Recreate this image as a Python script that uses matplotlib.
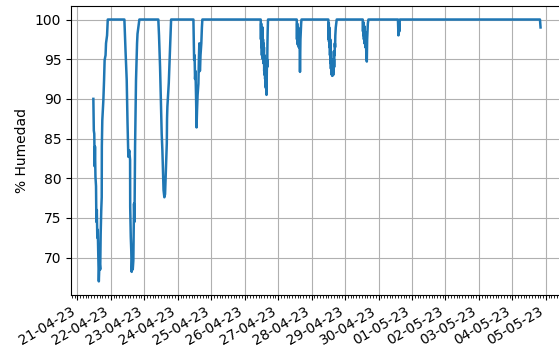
import matplotlib
matplotlib.use("Agg")
import matplotlib.pyplot as plt
import matplotlib.dates as mdates
import pandas as pd

# Humidity readings (%), timestamped
timestamps = [
    # 21-04
    "2023-04-21 11:30", "2023-04-21 11:50", "2023-04-21 12:10", "2023-04-21 12:25",
    "2023-04-21 12:40", "2023-04-21 13:00", "2023-04-21 13:25", "2023-04-21 13:40",
    "2023-04-21 14:00", "2023-04-21 14:20", "2023-04-21 14:40", "2023-04-21 15:05",
    "2023-04-21 15:25", "2023-04-21 15:55", "2023-04-21 16:25", "2023-04-21 16:45",
    "2023-04-21 17:10", "2023-04-21 17:30", "2023-04-21 17:35", "2023-04-21 17:55",
    "2023-04-21 18:40", "2023-04-21 19:10", "2023-04-21 19:35", "2023-04-21 20:15",
    "2023-04-21 20:35", "2023-04-21 21:20", "2023-04-21 21:50",
    # 22-04
    "2023-04-22 09:45", "2023-04-22 10:35", "2023-04-22 11:25", "2023-04-22 12:00",
    "2023-04-22 12:35", "2023-04-22 13:15", "2023-04-22 13:50", "2023-04-22 13:55",
    "2023-04-22 14:20", "2023-04-22 14:40", "2023-04-22 15:00", "2023-04-22 15:25",
    "2023-04-22 15:45", "2023-04-22 16:10", "2023-04-22 16:25", "2023-04-22 16:40",
    "2023-04-22 17:00", "2023-04-22 17:25", "2023-04-22 17:45", "2023-04-22 18:05",
    "2023-04-22 18:50", "2023-04-22 19:10", "2023-04-22 20:30",
    # 23-04
    "2023-04-23 10:05", "2023-04-23 10:35", "2023-04-23 11:20", "2023-04-23 11:55",
    "2023-04-23 12:30", "2023-04-23 13:00", "2023-04-23 13:30", "2023-04-23 13:50",
    "2023-04-23 14:25", "2023-04-23 14:55", "2023-04-23 15:25", "2023-04-23 15:45",
    "2023-04-23 16:10", "2023-04-23 16:20", "2023-04-23 16:35", "2023-04-23 17:05",
    "2023-04-23 17:35", "2023-04-23 18:00", "2023-04-23 18:30", "2023-04-23 19:15",
    # 24-04
    "2023-04-24 11:15", "2023-04-24 11:30", "2023-04-24 11:45", "2023-04-24 12:05",
    "2023-04-24 12:25", "2023-04-24 12:45", "2023-04-24 13:10", "2023-04-24 13:30",
    "2023-04-24 13:50", "2023-04-24 14:15", "2023-04-24 14:50", "2023-04-24 15:10",
    "2023-04-24 15:30", "2023-04-24 15:50", "2023-04-24 16:00", "2023-04-24 16:20",
    "2023-04-24 16:55", "2023-04-24 17:20", "2023-04-24 17:40",
    # 26-04
    "2023-04-26 11:30", "2023-04-26 11:40", "2023-04-26 11:50", "2023-04-26 12:00",
    "2023-04-26 12:10", "2023-04-26 12:20", "2023-04-26 12:30", "2023-04-26 12:40",
    "2023-04-26 12:50", "2023-04-26 13:00", "2023-04-26 13:10", "2023-04-26 13:20",
    "2023-04-26 13:30", "2023-04-26 13:40", "2023-04-26 13:50", "2023-04-26 14:00",
    "2023-04-26 14:10", "2023-04-26 14:20", "2023-04-26 14:30", "2023-04-26 14:40",
    "2023-04-26 14:50", "2023-04-26 15:00", "2023-04-26 15:10", "2023-04-26 15:20",
    "2023-04-26 15:30", "2023-04-26 15:40", "2023-04-26 15:50", "2023-04-26 16:00",
    "2023-04-26 16:10", "2023-04-26 16:20", "2023-04-26 16:30", "2023-04-26 16:45",
    # 27-04
    "2023-04-27 13:20", "2023-04-27 13:30", "2023-04-27 13:40", "2023-04-27 13:50",
    "2023-04-27 14:00", "2023-04-27 14:10", "2023-04-27 14:20", "2023-04-27 14:30",
    "2023-04-27 14:40", "2023-04-27 14:50", "2023-04-27 15:00", "2023-04-27 15:10",
    "2023-04-27 15:20", "2023-04-27 15:30", "2023-04-27 15:40", "2023-04-27 15:50",
    "2023-04-27 16:00", "2023-04-27 16:15", "2023-04-27 16:30", "2023-04-27 16:45",
    # 28-04
    "2023-04-28 12:00", "2023-04-28 12:10", "2023-04-28 12:20", "2023-04-28 12:30",
    "2023-04-28 12:40", "2023-04-28 12:50", "2023-04-28 13:00", "2023-04-28 13:10",
    "2023-04-28 13:20", "2023-04-28 13:30", "2023-04-28 13:40", "2023-04-28 13:50",
    "2023-04-28 14:00", "2023-04-28 14:10", "2023-04-28 14:20", "2023-04-28 14:30",
    "2023-04-28 14:40", "2023-04-28 14:50", "2023-04-28 15:00", "2023-04-28 15:10",
    "2023-04-28 15:20", "2023-04-28 15:30", "2023-04-28 15:40", "2023-04-28 15:50",
    "2023-04-28 16:00", "2023-04-28 16:10", "2023-04-28 16:20", "2023-04-28 16:30",
    "2023-04-28 16:40", "2023-04-28 16:50", "2023-04-28 17:00", "2023-04-28 17:20",
    "2023-04-28 17:40", "2023-04-28 18:00",
    # 29-04
    "2023-04-29 12:40", "2023-04-29 12:50", "2023-04-29 13:00", "2023-04-29 13:10",
    "2023-04-29 13:20", "2023-04-29 13:30", "2023-04-29 13:40", "2023-04-29 13:50",
    "2023-04-29 14:00", "2023-04-29 14:10", "2023-04-29 14:20", "2023-04-29 14:30",
    "2023-04-29 14:40", "2023-04-29 14:50", "2023-04-29 15:00", "2023-04-29 15:10",
    "2023-04-29 15:20", "2023-04-29 15:35", "2023-04-29 15:50", "2023-04-29 16:05",
    "2023-04-29 16:20", "2023-04-29 16:45",
    # 30-04
    "2023-04-30 13:55", "2023-04-30 14:15", "2023-04-30 14:35", "2023-04-30 14:55",
    "2023-04-30 15:15",
    # 04-05
    "2023-05-04 19:45", "2023-05-04 20:10",
]

humidity = [
    # 21-04
    90.0, 86.0, 85.6, 81.5, 84.0, 80.2, 79.0, 74.5, 76.0, 72.5, 73.5, 70.0,
    67.0, 69.5, 68.5, 73.0, 76.0, 77.6, 84.0, 87.3, 89.8, 92.3, 94.9, 95.5,
    97.0, 98.0, 100.0,
    # 22-04
    100.0, 96.0, 92.4, 87.0, 82.7, 83.5, 82.3, 76.4, 72.6, 71.0, 68.2, 70.0,
    68.5, 69.6, 73.0, 76.8, 74.5, 84.0, 88.0, 92.3, 97.0, 98.2, 100.0,
    # 23-04
    100.0, 98.0, 94.0, 90.0, 85.6, 83.5, 80.5, 78.5, 77.6, 78.0, 80.5, 82.0,
    84.4, 87.5, 89.0, 90.5, 92.0, 94.0, 96.5, 100.0,
    # 24-04
    100.0, 97.0, 94.9, 95.5, 92.5, 93.5, 90.0, 86.4, 88.5, 90.5, 91.9, 95.0,
    97.0, 93.5, 93.6, 95.5, 97.0, 99.0, 100.0,
    # 26-04
    100.0, 97.5, 99.5, 96.5, 99.0, 95.5, 98.5, 96.0, 99.0, 95.0, 97.5, 94.5,
    97.0, 95.5, 96.5, 93.5, 95.5, 93.0, 94.5, 92.5, 94.0, 91.5, 93.0, 91.3,
    92.5, 90.5, 93.0, 95.0, 94.0, 97.0, 98.5, 100.0,
    # 27-04
    100.0, 97.5, 99.5, 97.0, 99.0, 96.8, 99.0, 97.2, 98.5, 96.5, 98.5, 97.0,
    98.0, 95.5, 93.4, 96.0, 97.5, 98.5, 99.5, 100.0,
    # 28-04
    100.0, 97.5, 99.5, 97.2, 99.0, 96.5, 98.5, 95.5, 97.5, 94.5, 96.5, 93.8,
    96.0, 93.2, 95.0, 93.0, 94.5, 92.9, 94.0, 93.2, 94.5, 93.0, 94.0, 93.5,
    95.0, 94.0, 96.0, 95.5, 97.0, 96.5, 98.0, 99.0, 99.5, 100.0,
    # 29-04
    100.0, 98.5, 99.7, 98.0, 99.5, 97.5, 99.2, 97.0, 99.0, 97.5, 98.5, 96.5,
    98.0, 97.0, 97.8, 96.0, 95.5, 94.7, 97.5, 98.5, 99.5, 100.0,
    # 30-04
    100.0, 98.0, 99.5, 98.5, 100.0,
    # 04-05
    100.0, 99.0,
]

times = pd.to_datetime(timestamps)

fig = plt.figure(figsize=(5.59, 3.54), dpi=100)
ax = fig.add_axes([0.127, 0.167, 0.880, 0.816])

ax.plot(times, humidity, color="#1f77b4", linewidth=1.8)

ax.set_ylim(65.3, 101.7)
ax.set_ylabel("% Humedad")

ax.xaxis.set_major_locator(mdates.DayLocator())
ax.xaxis.set_major_formatter(mdates.DateFormatter("%d-%m-%y"))
ax.xaxis.set_minor_locator(mdates.HourLocator(byhour=range(0, 24, 2)))
for lbl in ax.get_xticklabels():
    lbl.set_rotation(30)
    lbl.set_horizontalalignment("right")

ax.grid(True)

fig.savefig("out.png", dpi=100)
